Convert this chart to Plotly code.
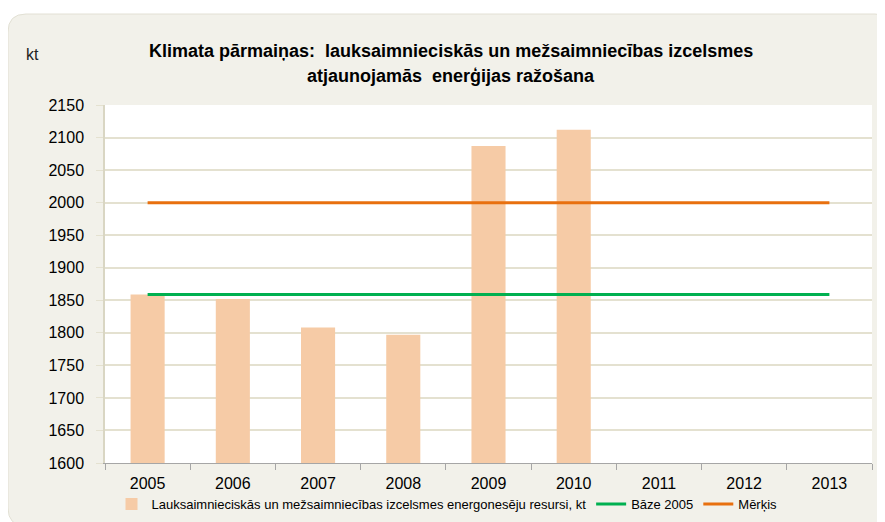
import plotly.graph_objects as go

years = ["2005", "2006", "2007", "2008", "2009", "2010", "2011", "2012", "2013"]
resursi = [1859, 1852, 1808, 1797, 2087, 2112, None, None, None]
baze_2005 = [1859] * 9
merkis = [2000] * 9

# page has an 8px body margin; work in page pixels and convert
OFF = 8
W, H = 877, 514
PL, PT, PR, PB = 105, 105, 872, 463          # plot area in page pixels
ML, MT = PL - OFF, PT - OFF
MR, MB = W - (PR - OFF), H - (PB - OFF)
PW, PH = PR - PL, PB - PT

def px(x):
    return (x - PL) / PW

def py(y):
    return 1 - (y - PT) / PH

def rounded(x0, y0, x1, y1, r):
    return (f"M {px(x0 + r)},{py(y0)} L {px(x1 - r)},{py(y0)} "
            f"Q {px(x1)},{py(y0)} {px(x1)},{py(y0 + r)} "
            f"L {px(x1)},{py(y1 - r)} Q {px(x1)},{py(y1)} {px(x1 - r)},{py(y1)} "
            f"L {px(x0 + r)},{py(y1)} Q {px(x0)},{py(y1)} {px(x0)},{py(y1 - r)} "
            f"L {px(x0)},{py(y0 + r)} Q {px(x0)},{py(y0)} {px(x0 + r)},{py(y0)} Z")

fig = go.Figure()
fig.add_trace(go.Bar(
    x=years, y=resursi, width=0.4,
    marker=dict(color="#F6CBA6", line=dict(width=0)),
    name="Lauksaimnieciskās un mežsaimniecības izcelsmes energonesēju resursi, kt",
))
fig.add_trace(go.Scatter(
    x=years, y=baze_2005, mode="lines",
    line=dict(color="#00B050", width=3), name="Bāze 2005",
))
fig.add_trace(go.Scatter(
    x=years, y=merkis, mode="lines",
    line=dict(color="#E8700F", width=3), name="Mērķis",
))

title_font = dict(size=18, color="#000000", family="Liberation Sans, Arial, sans-serif")

fig.update_layout(
    width=W, height=H,
    margin=dict(l=ML, r=MR, t=MT, b=MB, autoexpand=False),
    paper_bgcolor="white",
    plot_bgcolor="white",
    font=dict(family="Liberation Sans, Arial, sans-serif", color="#000000"),
    showlegend=True,
    legend=dict(
        orientation="h", x=px(447), xanchor="center", y=py(504), yanchor="middle",
        font=dict(size=13), bgcolor="rgba(0,0,0,0)",
        tracegroupgap=0,
    ),
    bargap=0.6,
    xaxis=dict(
        type="category", tickson="boundaries", ticks="outside", ticklen=6,
        tickcolor="#A6A6A6", showline=True, linecolor="#A6A6A6",
        tickfont=dict(size=16), showgrid=False, ticklabelstandoff=6,
    ),
    yaxis=dict(
        range=[1600, 2150], dtick=50, showgrid=True, gridcolor="#E4E1D0",
        gridwidth=1.5, showline=True, linecolor="#D9D6C3", linewidth=1.5,
        ticks="outside", ticklen=7, tickcolor="#E4E1D0",
        tickfont=dict(size=16), zeroline=False, ticklabelstandoff=9,
    ),
    shapes=[
        dict(
            type="path", xref="paper", yref="paper", layer="below",
            path=rounded(8, 14, 893, 526, 18),
            fillcolor="#F2F1EA", line=dict(color="#E2E0D4", width=1),
        ),
        dict(
            type="rect", xref="paper", yref="paper", layer="below",
            x0=0, x1=1, y0=0, y1=1, fillcolor="white", line=dict(width=0),
        ),
    ],
    annotations=[
        dict(text="kt", xref="paper", yref="paper", x=px(24), y=py(54),
             xanchor="left", yanchor="middle", showarrow=False,
             font=dict(size=16, color="#222222")),
        dict(text="<b>Klimata pārmaiņas:  lauksaimnieciskās un mežsaimniecības izcelsmes</b>",
             xref="paper", yref="paper", x=px(451), y=py(51),
             xanchor="center", yanchor="middle", showarrow=False, font=title_font),
        dict(text="<b>atjaunojamās  enerģijas ražošana</b>",
             xref="paper", yref="paper", x=px(451), y=py(76),
             xanchor="center", yanchor="middle", showarrow=False, font=title_font),
    ],
)

fig.write_html("out.html")
